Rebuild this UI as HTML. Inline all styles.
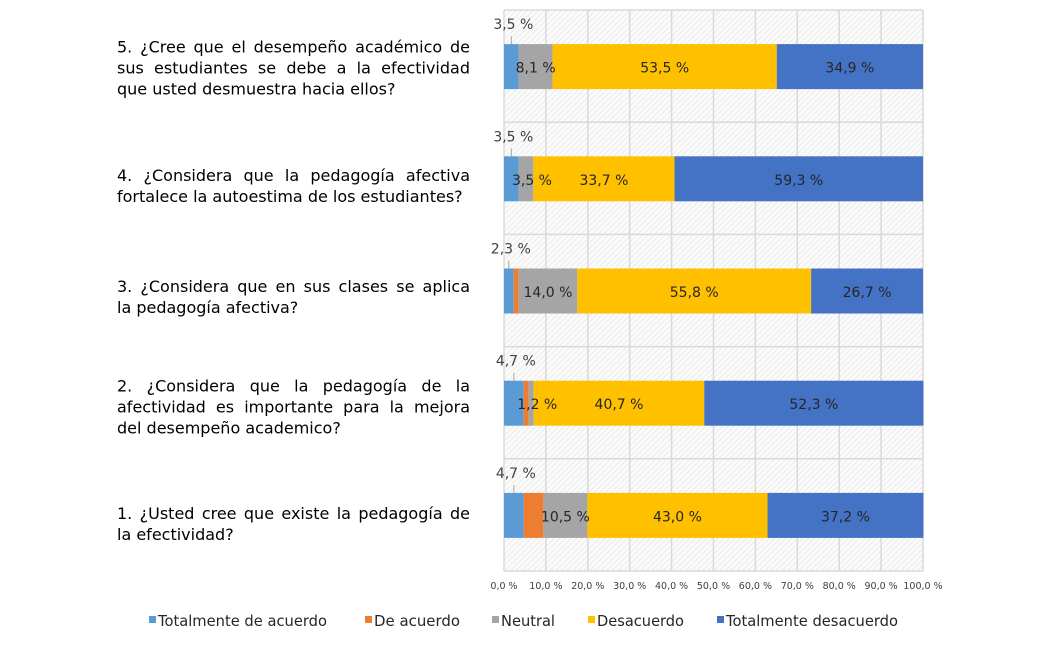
<!DOCTYPE html>
<html><head><meta charset="utf-8">
<style>
body{margin:0;background:#fff;width:1041px;height:661px;overflow:hidden;position:relative;font-family:"DejaVu Sans","Liberation Sans",sans-serif;}
.q{position:absolute;left:117px;width:353px;font-size:16px;line-height:21px;color:#000;transform:translateY(-50%);}
.q div{text-align:justify;text-align-last:justify;white-space:nowrap;}
.q div.l{text-align-last:left;}
svg{position:absolute;left:0;top:0;}
</style></head>
<body>
<div class="q" style="top:68px"><div>5. ¿Cree que el desempeño académico de</div><div>sus estudiantes se debe a la efectividad</div><div class="l">que usted desmuestra hacia ellos?</div></div>
<div class="q" style="top:186px"><div>4. ¿Considera que la pedagogía afectiva</div><div class="l">fortalece la autoestima de los estudiantes?</div></div>
<div class="q" style="top:297px"><div>3. ¿Considera que en sus clases se aplica</div><div class="l">la pedagogía afectiva?</div></div>
<div class="q" style="top:407px"><div>2. ¿Considera que la pedagogía de la</div><div>afectividad es importante para la mejora</div><div class="l">del desempeño academico?</div></div>
<div class="q" style="top:524px"><div>1. ¿Usted cree que existe la pedagogía de</div><div class="l">la efectividad?</div></div>
<svg id="chart" width="1041" height="661">
<defs><pattern id="hatch" width="4" height="4" patternUnits="userSpaceOnUse" patternTransform="rotate(45)"><rect width="4" height="4" fill="#fbfbfb"/><line x1="0" y1="0" x2="0" y2="4" stroke="#e6e6e6" stroke-width="1.5"/></pattern></defs>
</svg>
<script>
const categories=["1","2","3","4","5"];
const sTotAcuerdo=[4.7,4.7,2.3,3.5,3.5];
const sAcuerdo=[4.7,1.2,1.2,0,0];
const sNeutral=[10.5,1.2,14.0,3.5,8.1];
const sDesacuerdo=[43.0,40.7,55.8,33.7,53.5];
const sTotDesacuerdo=[37.2,52.3,26.7,59.3,34.9];
const ticks=[0,10,20,30,40,50,60,70,80,90,100];
const seriesNames=["Totalmente de acuerdo","De acuerdo","Neutral","Desacuerdo","Totalmente desacuerdo"];
const colors=["#5b9bd5","#ed7d31","#a5a5a5","#ffc000","#4472c4"];
const NS="http://www.w3.org/2000/svg";
const svg=document.getElementById('chart');
const X0=504,X1=923,Y0=10,Y1=571;
const x=v=>X0+(X1-X0)*v/100;
const bandH=(Y1-Y0)/categories.length;
const yC=i=>Y1-bandH*(i+0.5);
function mk(t,a){const e=document.createElementNS(NS,t);for(const k in a)e.setAttribute(k,a[k]);svg.appendChild(e);return e;}
const bg=mk('rect',{x:X0,y:Y0,width:X1-X0,height:Y1-Y0,fill:'url(#hatch)'});


ticks.forEach(t=>{
  const l=mk('line',{x1:x(t),x2:x(t),y1:Y0,y2:Y1,stroke:'#d9d9d9','stroke-width':1.5});
  
  
  const tx=mk('text',{x:x(t),y:589,'font-size':9.5,'text-anchor':'middle',fill:'#404040'});
  tx.textContent=t.toFixed(1).replace('.',',')+' %';
  
  
});
for(let i=0;i<=categories.length;i++){
  const l=mk('line',{x1:X0,x2:X1,y1:Y0+bandH*i,y2:Y0+bandH*i,stroke:'#d9d9d9','stroke-width':1.5});
  
  
}
const all=[sTotAcuerdo,sAcuerdo,sNeutral,sDesacuerdo,sTotDesacuerdo];
const labels=[];
categories.forEach((c,i)=>{
  let acc=0;const cy=yC(i)+0.5,h=45;
  all.forEach((s,k)=>{
    const v=s[i];
    const r=mk('rect',{x:x(acc),y:cy-h/2,width:x(acc+v)-x(acc),height:h,fill:colors[k]});
    
    
    if(v>0&&k!==1)labels.push({k,v,cx:x(acc+v/2),cy,h});
    acc+=v;
  });
});
labels.forEach(o=>{
  const lbl=o.v.toFixed(1).replace('.',',')+' %';
  let t;
  if(o.k===0){
    const ln=mk('line',{x1:o.cx,x2:o.cx,y1:o.cy-o.h/2-8,y2:o.cy-o.h/2,stroke:'#a6a6a6'});
    
    
    t=mk('text',{x:o.cx+2,y:o.cy-o.h/2-15,'font-size':14,'text-anchor':'middle',fill:'#404040'});
  }else{
    t=mk('text',{x:o.cx+(o.k===2&&o.v<5?6:0),y:o.cy+6,'font-size':14,'text-anchor':'middle',fill:'#262626'});
  }
  t.textContent=lbl;
  
  
});
const lx=[149,365,492,588,717];
const lw=[169,86,54,87,172];
seriesNames.forEach((n,k)=>{
  const r=mk('rect',{x:lx[k],y:616,width:7,height:7,fill:colors[k]});
  
  
  const t=mk('text',{x:lx[k]+9,y:626,'font-size':15,fill:'#262626',textLength:lw[k],lengthAdjust:'spacingAndGlyphs'});
  t.textContent=n;
  
  
});
</script>
</body></html>
